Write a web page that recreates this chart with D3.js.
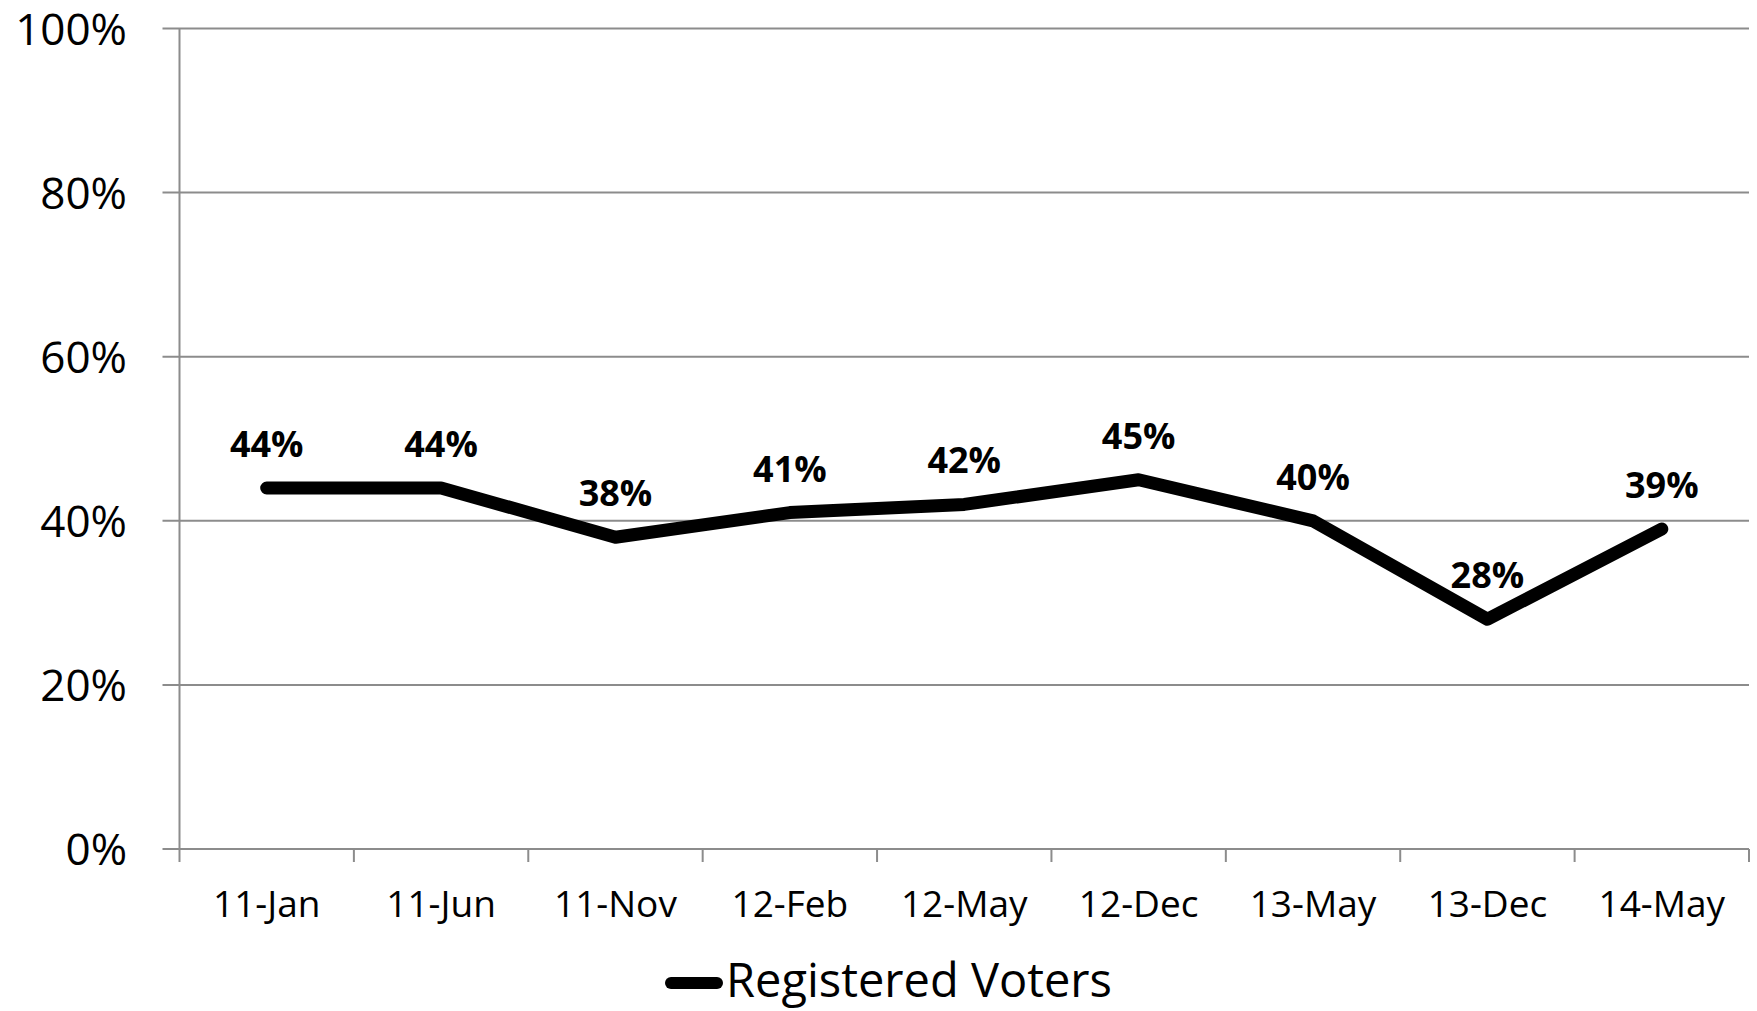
<!DOCTYPE html>
<html><head><meta charset="utf-8">
<script src="https://cdn.jsdelivr.net/npm/d3@7"></script>
<style>
html,body{margin:0;padding:0;background:#fff;}
svg text{font-family:"Open Sans","Noto Sans",sans-serif;fill:#000;}
</style></head>
<body><svg id="c" width="1757" height="1011"></svg>
<script>
const categories = ["11-Jan","11-Jun","11-Nov","12-Feb","12-May","12-Dec","13-May","13-Dec","14-May"];
const values = [44,44,38,41,42,45,40,28,39];
const yTicks = [0,20,40,60,80,100];
const seriesName = "Registered Voters";

const svg = d3.select("#c");
const pLeft = 179.5, pRight = 1749, pTop = 28.5, pBottom = 849;
const x = d3.scaleBand().domain(categories).range([pLeft, pRight]);
const y = d3.scaleLinear().domain([0,100]).range([pBottom, pTop]);

// gridlines
svg.append("g").selectAll("line").data(yTicks).join("line")
  .attr("x1", pLeft - 17).attr("x2", pRight)
  .attr("y1", d => y(d)).attr("y2", d => y(d))
  .attr("stroke", "#8c8c8c").attr("stroke-width", 2);

// y axis line
svg.append("line").attr("x1", pLeft).attr("x2", pLeft).attr("y1", pTop).attr("y2", pBottom)
  .attr("stroke", "#8c8c8c").attr("stroke-width", 2);

// y labels
svg.append("g").selectAll("text").data(yTicks).join("text")
  .attr("x", 127).attr("y", d => y(d))
  .attr("dy", "0.37em")
  .attr("text-anchor", "end")
  .attr("font-size", 44)
  .text(d => d + "%");

// x ticks
const xTickPos = categories.map(c => x(c)).concat([pRight]);
svg.append("g").selectAll("line").data(xTickPos).join("line")
  .attr("x1", d => d).attr("x2", d => d).attr("y1", pBottom).attr("y2", pBottom + 13)
  .attr("stroke", "#8c8c8c").attr("stroke-width", 2);

// x labels
svg.append("g").selectAll("text").data(categories).join("text")
  .attr("x", d => x(d) + x.bandwidth()/2).attr("y", 917)
  .attr("text-anchor", "middle")
  .attr("font-size", 37)
  .text(d => d);

// line
const line = d3.line().x((d,i) => x(categories[i]) + x.bandwidth()/2).y(d => y(d));
svg.append("path").datum(values)
  .attr("d", line)
  .attr("fill", "none").attr("stroke", "#000").attr("stroke-width", 13)
  .attr("stroke-linecap", "round").attr("stroke-linejoin", "round");

// data labels
svg.append("g").selectAll("text").data(values).join("text")
  .attr("x", (d,i) => x(categories[i]) + x.bandwidth()/2)
  .attr("y", d => y(d) - 31)
  .attr("text-anchor", "middle")
  .attr("font-size", 36).attr("font-weight", "bold")
  .text(d => d + "%");

// legend
svg.append("line").attr("x1", 671).attr("x2", 717).attr("y1", 983).attr("y2", 983)
  .attr("stroke", "#000").attr("stroke-width", 12).attr("stroke-linecap", "round");
svg.append("text").attr("x", 726).attr("y", 997)
  .attr("font-size", 47).text(seriesName);
</script></body></html>
